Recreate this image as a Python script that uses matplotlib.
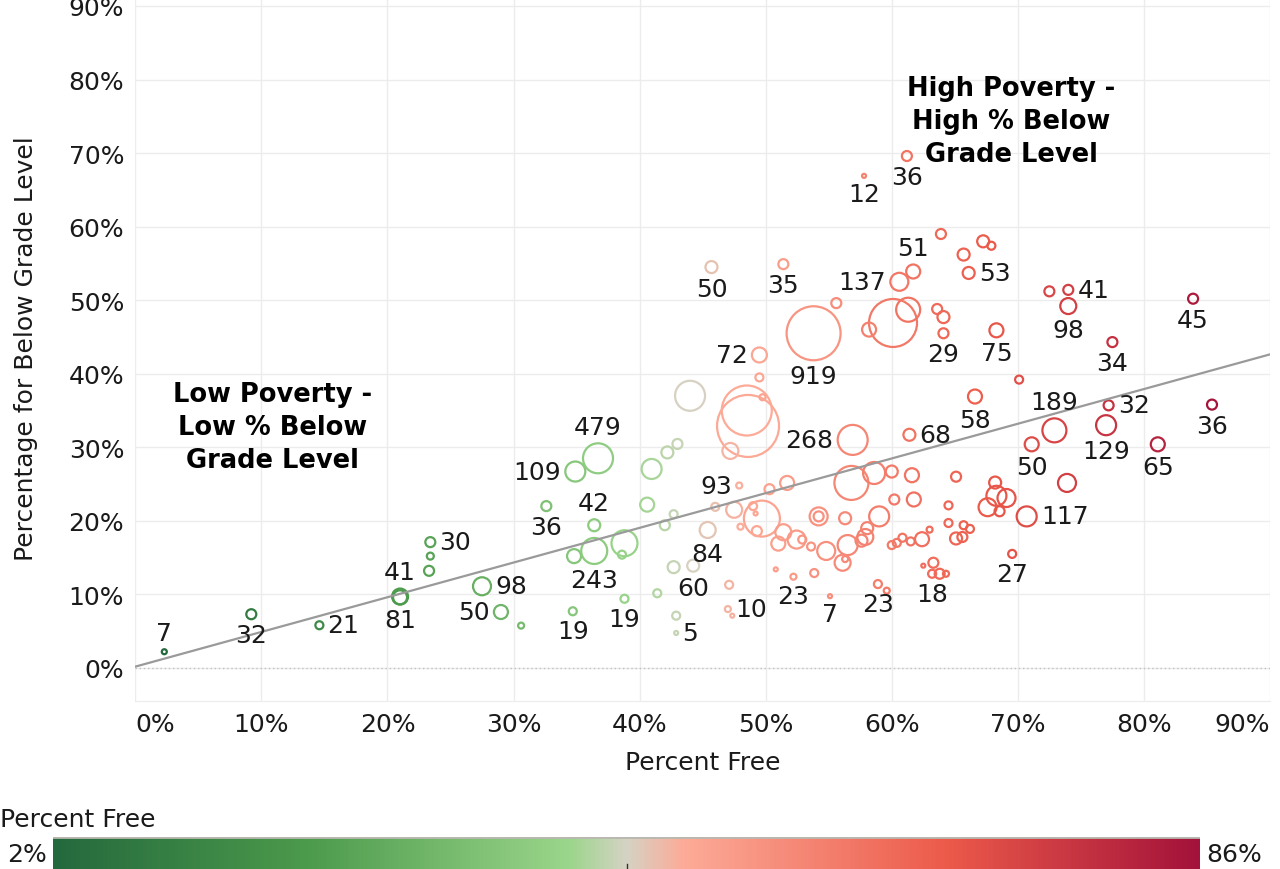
import matplotlib
matplotlib.use('Agg')
import matplotlib.pyplot as plt
import numpy as np
from matplotlib.colors import LinearSegmentedColormap, Normalize

plt.rcParams['font.family'] = ['DejaVu Sans']

# Percent free lunch (x) and percent below grade level (y), in percent
pct_free = [2.3, 9.2, 14.6, 21.0, 21.0, 23.4, 23.4, 23.3, 27.5, 29.0,
            30.6, 32.6, 34.9, 36.7, 34.8, 36.4, 36.4, 38.8, 38.6, 34.7,
            38.8, 41.4, 40.95, 42.2, 43.0, 40.6, 42.0, 42.7, 42.7, 44.25,
            45.4, 42.9, 42.9, 44.0, 45.7, 51.4, 49.5, 49.5, 48.5, 48.6,
            49.75, 47.2, 47.9, 46.0, 47.5, 49.0, 49.2, 49.7, 49.3, 48.0,
            50.3, 51.7, 51.4, 51.0, 52.45, 52.9, 53.6, 54.8, 54.2, 54.2,
            56.3, 56.8, 58.6, 60.0, 61.6, 60.2, 61.75, 59.0, 58.05, 57.9,
            57.6, 56.5, 56.1, 56.3, 50.8, 52.2, 53.85, 47.1, 47.0, 47.35,
            55.1, 58.9, 59.6, 60.0, 60.4, 60.85, 61.5, 62.4, 63.0, 64.5,
            65.1, 64.5, 65.7, 66.2, 65.1, 65.6, 63.3, 62.5, 63.2, 63.8,
            64.3, 61.2, 57.8, 61.7, 60.6, 63.9, 67.25, 67.9, 65.7, 66.1,
            55.6, 53.8, 60.1, 61.3, 58.2, 63.6, 64.1, 64.1, 68.3, 72.5,
            74.0, 74.0, 83.9, 77.5, 70.1, 66.6, 72.9, 77.2, 85.4, 77.0,
            81.1, 71.1, 73.9, 70.7, 69.55, 68.2, 68.3, 69.1, 67.6, 68.55,
            61.4, 56.9]
pct_below = [2.2, 7.3, 5.8, 9.7, 9.6, 17.1, 15.2, 13.2, 11.1, 7.6,
             5.75, 22.0, 26.7, 28.5, 15.2, 15.9, 19.4, 16.95, 15.4, 7.7,
             9.4, 10.15, 27.05, 29.3, 30.45, 22.2, 19.4, 20.9, 13.7, 13.9,
             18.75, 4.75, 7.1, 37.0, 54.5, 54.9, 42.55, 39.5, 35.0, 32.9,
             36.8, 29.5, 24.8, 21.9, 21.5, 22.0, 21.0, 20.3, 18.6, 19.2,
             24.3, 25.15, 18.45, 16.9, 17.45, 17.45, 16.5, 15.9, 20.6, 20.6,
             20.35, 25.15, 26.5, 26.7, 26.2, 22.9, 22.9, 20.6, 19.0, 17.8,
             17.3, 16.7, 14.3, 14.8, 13.4, 12.4, 12.9, 11.3, 8.0, 7.1,
             9.75, 11.4, 10.5, 16.7, 17.0, 17.7, 17.2, 17.5, 18.8, 22.1,
             26.0, 19.7, 19.4, 18.9, 17.6, 17.8, 14.3, 13.9, 12.8, 12.8,
             12.8, 69.6, 66.9, 53.9, 52.5, 59.0, 58.0, 57.4, 56.2, 53.7,
             49.6, 45.5, 46.9, 48.7, 46.0, 48.8, 47.7, 45.5, 45.9, 51.2,
             51.4, 49.2, 50.2, 44.3, 39.2, 36.9, 32.3, 35.7, 35.8, 33.0,
             30.4, 30.4, 25.15, 20.6, 15.5, 25.2, 23.4, 23.1, 21.85, 21.3,
             31.7, 31.0]
# relative bubble size (enrollment), read as circle radius
bubble = [2.5, 5, 4, 8, 7, 5, 3.5, 5, 9, 7,
          3, 5, 10, 15, 7, 13, 6, 13, 4, 4,
          4, 4, 10, 6, 5, 7, 5, 4, 6, 6,
          8, 2, 4, 15, 6, 5, 7.5, 4, 25, 31,
          3, 8, 3, 4, 8, 4, 2, 18, 5, 3,
          5, 7, 8, 7, 9, 4, 4, 9, 9, 5,
          6, 17, 11, 6, 7, 5, 7, 10, 6, 8,
          6, 10, 8, 3, 2, 3, 4, 4, 3, 2,
          2, 4, 3, 4, 4, 4, 4, 7, 3, 4,
          5, 4, 4, 4, 6, 5, 5, 2, 4, 5,
          3, 5, 2, 7, 9, 5, 6, 4, 6, 6,
          5, 27, 24, 12, 7, 5, 6, 5, 7, 5,
          5, 8, 5, 5, 4, 7, 12, 5, 5, 10,
          7, 7, 9, 10, 4, 6, 10, 9, 9, 5,
          6, 15]
labels = {0: '7', 1: '32', 2: '21', 3: '41', 4: '81', 5: '30', 8: '98', 9: '50',
          11: '36', 12: '109', 13: '479', 15: '243', 16: '42', 19: '19', 20: '19',
          29: '60', 30: '84', 31: '5', 34: '50', 35: '35', 36: '72', 42: '93',
          75: '23', 78: '10', 80: '7', 81: '23', 98: '18', 101: '36', 102: '12',
          103: '51', 104: '137', 109: '53', 111: '919', 117: '29', 118: '75',
          120: '41', 121: '98', 122: '45', 123: '34', 125: '58', 126: '189',
          127: '32', 128: '36', 129: '129', 130: '65', 131: '50', 133: '117',
          134: '27', 140: '68', 141: '268'}
label_side = {0: 'a', 3: 'a', 13: 'a', 16: 'a', 103: 'a', 126: 'a',
              2: 'r', 5: 'r', 8: 'r', 31: 'r', 78: 'r', 109: 'r', 120: 'r',
              127: 'r', 133: 'r', 140: 'r',
              9: 'l', 12: 'l', 36: 'l', 42: 'l', 104: 'l', 141: 'l'}

x = np.array(pct_free) / 100
y = np.array(pct_below) / 100
r = np.array(bubble)

cmap = LinearSegmentedColormap.from_list('rg', [
    (0.0, '#24693d'), (0.22, '#4c9a4c'), (0.45, '#9bd68b'), (0.5, '#d5d3c4'),
    (0.55, '#fdab98'), (0.78, '#ec5a4a'), (1.0, '#a3123a')])
norm = Normalize(vmin=0.02, vmax=0.86)

fig = plt.figure(figsize=(12.8, 8.7), dpi=100)
ax = fig.add_axes([135.3 / 1280, 1 - 702 / 870, (1270 - 135.3) / 1280, 702 / 870])

ax.set_xlim(0, 0.9)
ax.set_ylim(-0.045, 0.9095)

ax.scatter(x, y, s=(1.44 * r) ** 2, facecolors='none',
           edgecolors=cmap(norm(x)), linewidths=1.6, zorder=2)

# linear trend line
k, b = np.polyfit(x, y, 1)
xx = np.array([0, 0.9])
ax.plot(xx, k * xx + b, color='#9a9a9a', lw=1.6, zorder=3)

for i, t in labels.items():
    side = label_side.get(i, 'b')
    off = r[i] * 0.72 + 3
    if side == 'a':
        xy, ha, va = (0, off), 'center', 'bottom'
    elif side == 'b':
        xy, ha, va = (0, -off), 'center', 'top'
    elif side == 'l':
        xy, ha, va = (-off, 0), 'right', 'center'
    else:
        xy, ha, va = (off, 0), 'left', 'center'
    ax.annotate(t, (x[i], y[i]), xytext=xy, textcoords='offset points',
                ha=ha, va=va, fontsize=18, color='#1a1a1a', zorder=4)

ax.text(0.695, 0.744, 'High Poverty -\nHigh % Below\nGrade Level', ha='center',
        va='center', fontsize=18.5, fontweight='bold', linespacing=1.35)
ax.text(0.109, 0.328, 'Low Poverty -\nLow % Below\nGrade Level', ha='center',
        va='center', fontsize=18.5, fontweight='bold', linespacing=1.35)

ticks = np.arange(0, 0.91, 0.1)
ax.set_xticks(ticks)
ax.set_xticklabels([f'{int(round(t * 100))}%' for t in ticks], fontsize=18)
tl = ax.get_xticklabels()
tl[0].set_ha('left')
tl[-1].set_ha('right')
ax.set_yticks(ticks)
ax.set_yticklabels([f'{int(round(t * 100))}%' for t in ticks], fontsize=18)
ax.tick_params(length=0, pad=8, colors='#1a1a1a')
ax.grid(True, color='#ececec', lw=1)
ax.set_axisbelow(True)
ax.axhline(0, color='#c0c0c0', lw=1, ls=(0, (1, 2)), zorder=1)
for s in ax.spines.values():
    s.set_visible(False)
ax.spines['bottom'].set_visible(True)
ax.spines['bottom'].set_color('#ececec')
ax.set_xlabel('Percent Free', fontsize=18, color='#1a1a1a', labelpad=10)
ax.set_ylabel('Percentage for Below Grade Level', fontsize=18, color='#1a1a1a')
ax.yaxis.set_label_coords(-97 / (1270 - 135.3), 0.504)

# color legend
cax = fig.add_axes([53 / 1280, 0, 1147 / 1280, 32 / 870])
cax.imshow(np.linspace(0, 1, 512)[None, :], cmap=cmap, aspect='auto',
           extent=[0, 1, 0, 1])
cax.set_xticks([])
cax.set_yticks([])
for s in cax.spines.values():
    s.set_visible(False)
cax.axhline(1, color='#b8b8b0', lw=2)
cax.plot([0.5, 0.5], [0, 0.15], color='#333333', lw=1)
fig.text(0, 50 / 870, 'Percent Free', fontsize=18, color='#1a1a1a', va='center')
fig.text(47 / 1280, 15 / 870, '2%', fontsize=18, color='#1a1a1a', ha='right', va='center')
fig.text(1206 / 1280, 15 / 870, '86%', fontsize=18, color='#1a1a1a', ha='left', va='center')

fig.savefig('out.png', dpi=100)
